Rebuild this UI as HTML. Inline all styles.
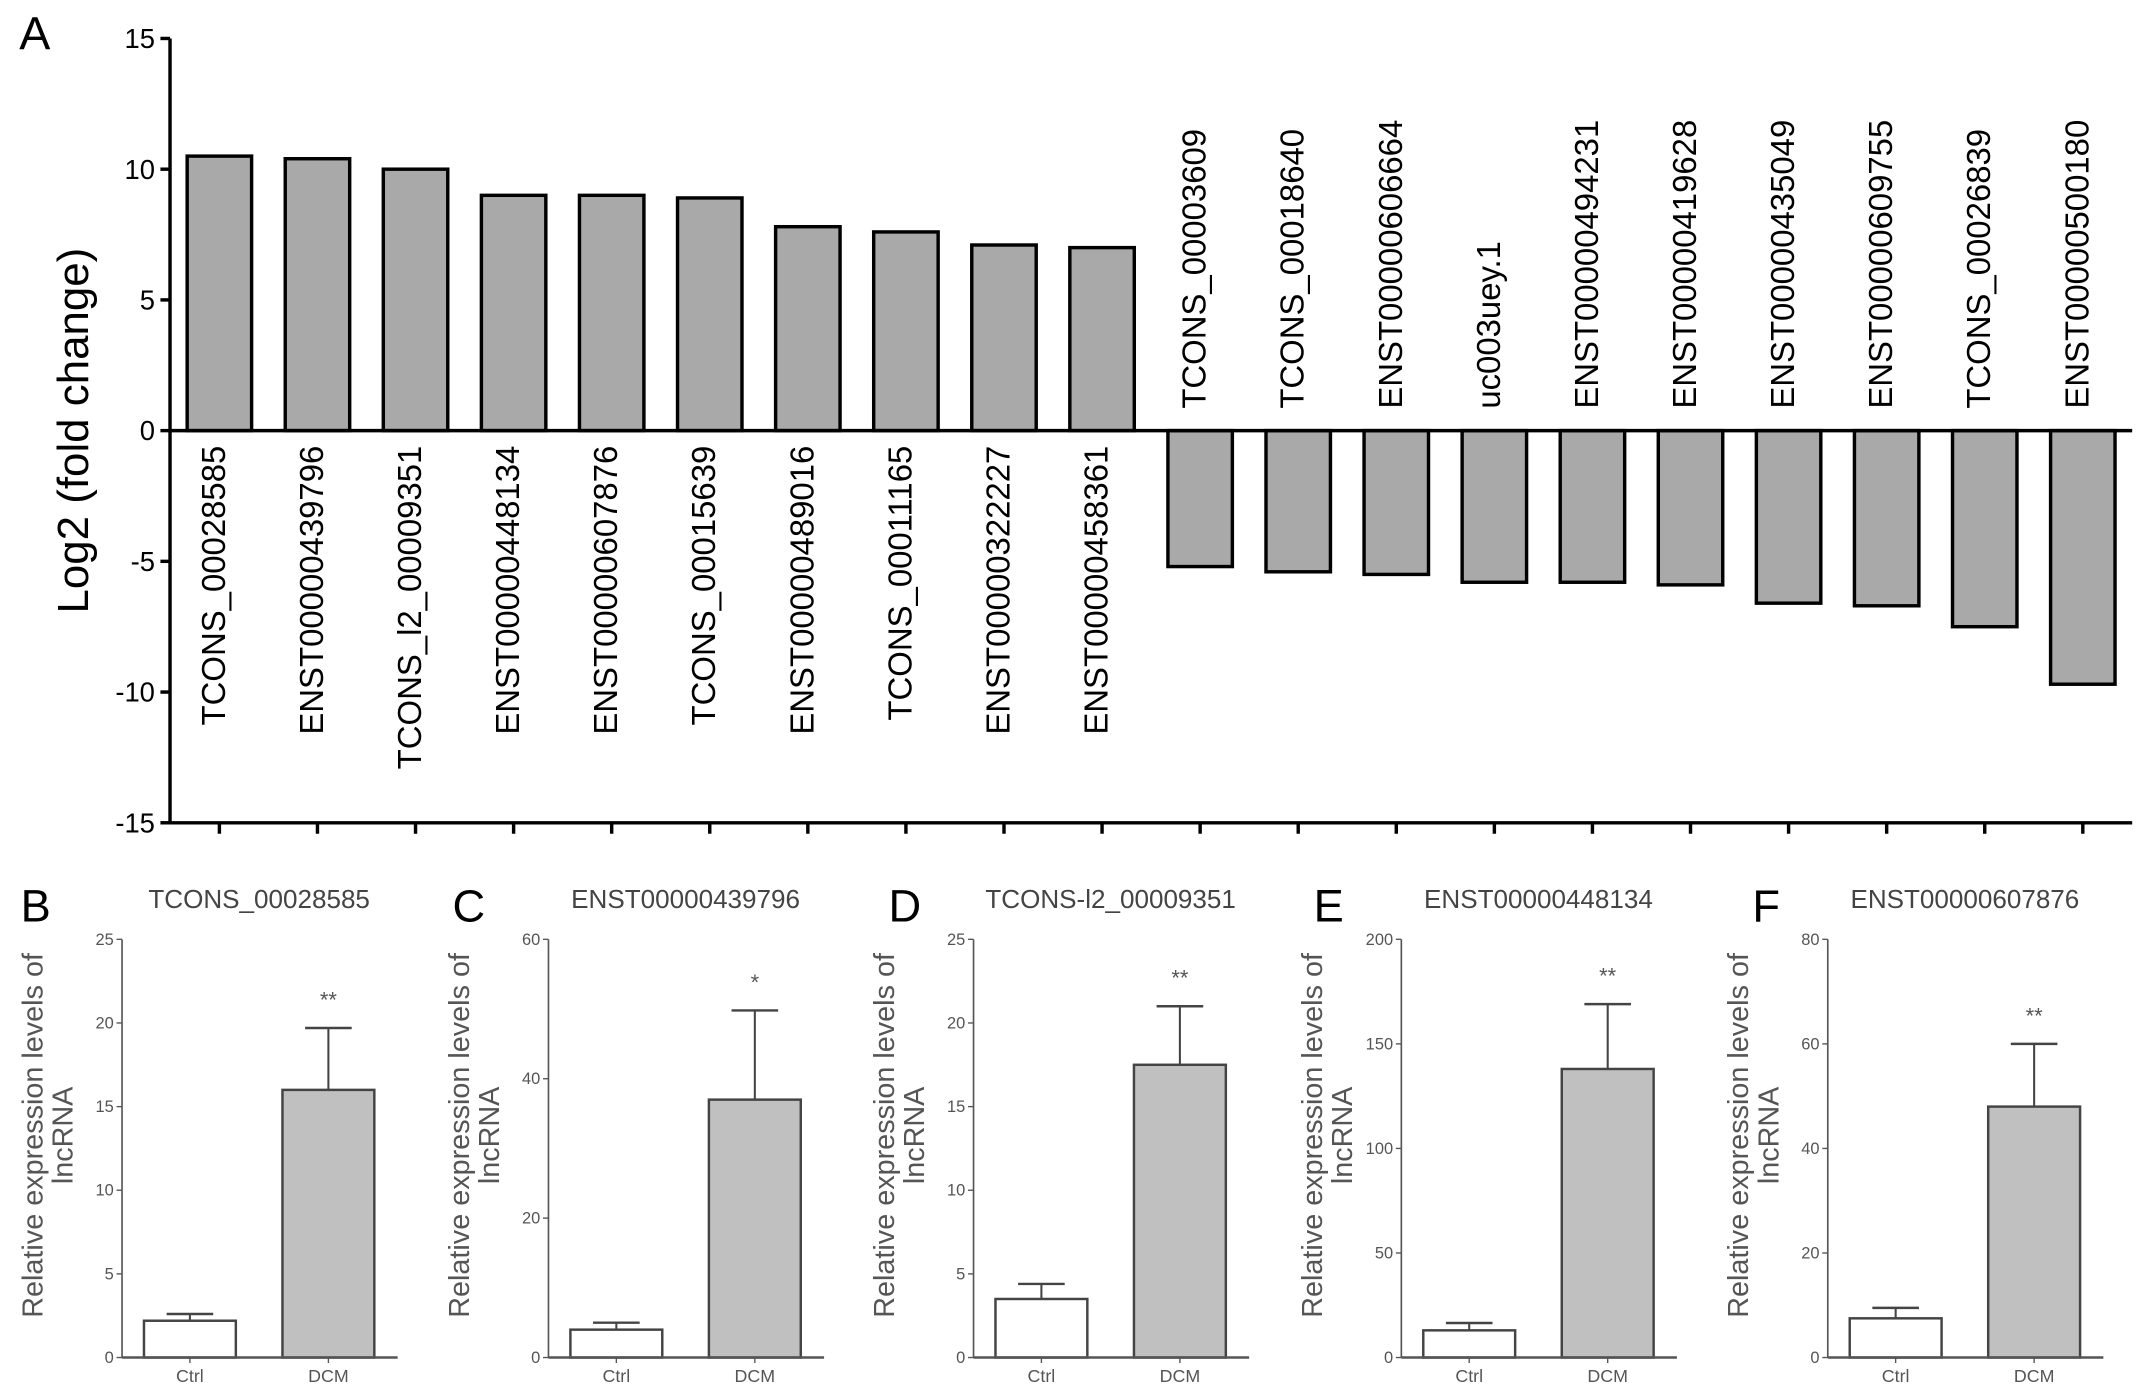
<!DOCTYPE html>
<html><head><meta charset="utf-8"><style>
html,body{margin:0;padding:0;background:#fff}
svg{display:block;font-family:"Liberation Sans",Arial,sans-serif}
</style></head><body>
<svg id="fig" width="2150" height="1396" viewBox="0 0 1568 1018"></svg>
<script>
const mainCats=["TCONS_00028585","ENST00000439796","TCONS_l2_00009351","ENST00000448134","ENST00000607876","TCONS_00015639","ENST00000489016","TCONS_00011165","ENST00000322227","ENST00000458361","TCONS_00003609","TCONS_00018640","ENST00000606664","uc003uey.1","ENST00000494231","ENST00000419628","ENST00000435049","ENST00000609755","TCONS_00026839","ENST00000500180"];
const mainVals=[10.5,10.4,10.0,9.0,9.0,8.9,7.8,7.6,7.1,7.0,-5.2,-5.4,-5.5,-5.8,-5.8,-5.9,-6.6,-6.7,-7.5,-9.7];
const mainTicks=[15,10,5,0,-5,-10,-15];
const panelLetters=["B","C","D","E","F"];
const panelTitles=["TCONS_00028585","ENST00000439796","TCONS-l2_00009351","ENST00000448134","ENST00000607876"];
const panelMax=[25,60,25,200,80];
const panelStep=[5,20,5,50,20];
const ctrlVals=[2.2,4.0,3.5,13,7.5];
const ctrlErr=[2.6,5.0,4.4,16.5,9.5];
const dcmVals=[16.0,37,17.5,138,48];
const dcmErr=[19.7,49.8,21,169,60];
const sigLabels=["**","*","**","**","**"];
const groupLabels=["Ctrl","DCM"];

const NS="http://www.w3.org/2000/svg";
const svg=document.getElementById('fig');
function mk(tag,attrs,parent,text){const e=document.createElementNS(NS,tag);for(const k in attrs)e.setAttribute(k,attrs[k]);if(text!==undefined)e.textContent=text;(parent||svg).appendChild(e);return e;}

const ax0=124,ax1=1555,yTop=28,yBot=600;
const yS=v=>314-v*(286/15);
const xS=i=>160+i*((1519-160)/19);
const gA=mk('g',{});


let t=mk('text',{x:14,y:36,'font-size':34},gA,"A");


mainVals.forEach((v,i)=>{
  const x=xS(i),w=47,y0=yS(0),y1=yS(v);
  const r=mk('rect',{x:x-w/2,y:Math.min(y0,y1),width:w,height:Math.abs(y1-y0),fill:'#a9a9a9',stroke:'#000','stroke-width':2.5},gA);
  
  
  const tk=mk('line',{x1:x,x2:x,y1:yBot,y2:yBot+8,stroke:'#000','stroke-width':2.5},gA);
  
  
  let lbl;
  if(v>=0){lbl=mk('text',{transform:`translate(${x+4},325) rotate(-90)`,'text-anchor':'end','font-size':24},gA,mainCats[i]);}
  else{lbl=mk('text',{transform:`translate(${x+4},298) rotate(-90)`,'text-anchor':'start','font-size':24},gA,mainCats[i]);}
  
  
});
let l=mk('line',{x1:ax0,x2:ax0,y1:yTop,y2:yBot,stroke:'#000','stroke-width':2.5},gA);

l=mk('line',{x1:ax0,x2:ax1,y1:yBot,y2:yBot,stroke:'#000','stroke-width':2.5},gA);

l=mk('line',{x1:ax0,x2:ax1,y1:yS(0),y2:yS(0),stroke:'#000','stroke-width':2.5},gA);

mainTicks.forEach(v=>{
  const y=yS(v);
  const tl=mk('line',{x1:ax0-7,x2:ax0,y1:y,y2:y,stroke:'#000','stroke-width':2.5},gA);
  
  const tt=mk('text',{x:ax0-11,y:y+7,'text-anchor':'end','font-size':20},gA,String(v));
  
});
t=mk('text',{transform:'translate(64,314) rotate(-90)','text-anchor':'middle','font-size':32},gA,"Log2 (fold change)");


const axXs=[89,400,710,1022,1333];
const letterX=[15,330,648,958,1278];
const pTop=685,pBot=990;
panelLetters.forEach((L,p)=>{
  const g=mk('g',{});
  
  
  const ax=axXs[p],max=panelMax[p];
  const ys=v=>pBot-v*(pBot-pTop)/max;
  let e=mk('text',{x:letterX[p],y:672,'font-size':33},g,L);
  
  e=mk('text',{x:ax+100,y:662,'text-anchor':'middle','font-size':19,fill:'#444'},g,panelTitles[p]);
  
  e=mk('text',{transform:`translate(${ax-58},828) rotate(-90)`,'text-anchor':'middle','font-size':21,fill:'#555'},g,"Relative expression levels of");
  
  e=mk('text',{transform:`translate(${ax-36},828) rotate(-90)`,'text-anchor':'middle','font-size':21,fill:'#555'},g,"lncRNA");
  
  const bw=67;
  const cx=[ax+16+bw/2, ax+117+bw/2];
  [[ctrlVals[p],ctrlErr[p],'#fff'],[dcmVals[p],dcmErr[p],'#c0c0c0']].forEach(([v,er,f],k)=>{
    const el=mk('line',{x1:cx[k],x2:cx[k],y1:ys(v),y2:ys(er),stroke:'#444','stroke-width':1.5},g);
    
    const ec=mk('line',{x1:cx[k]-17,x2:cx[k]+17,y1:ys(er),y2:ys(er),stroke:'#444','stroke-width':1.8},g);
    
    const r=mk('rect',{x:cx[k]-bw/2,y:ys(v),width:bw,height:pBot-ys(v),fill:f,stroke:'#444','stroke-width':1.8},g);
    
    const gl=mk('text',{x:cx[k],y:1008,'text-anchor':'middle','font-size':13,fill:'#555'},g,groupLabels[k]);
    
    const xt=mk('line',{x1:cx[k],x2:cx[k],y1:pBot,y2:pBot+4,stroke:'#555','stroke-width':1},g);
    
  });
  e=mk('text',{x:cx[1],y:ys(dcmErr[p])-15,'text-anchor':'middle','font-size':16,fill:'#555'},g,sigLabels[p]);
  
  e=mk('line',{x1:ax,x2:ax,y1:pTop,y2:pBot,stroke:'#555','stroke-width':1.2},g);
  
  e=mk('line',{x1:ax,x2:ax+201,y1:pBot,y2:pBot,stroke:'#555','stroke-width':1.8},g);
  
  for(let v=0;v<=max;v+=panelStep[p]){
    const y=ys(v);
    const tl=mk('line',{x1:ax-4,x2:ax,y1:y,y2:y,stroke:'#555','stroke-width':1},g);
    
    const tt=mk('text',{x:ax-6,y:y+4,'text-anchor':'end','font-size':12,fill:'#555'},g,String(v));
    
  }
});
</script>
</body></html>
